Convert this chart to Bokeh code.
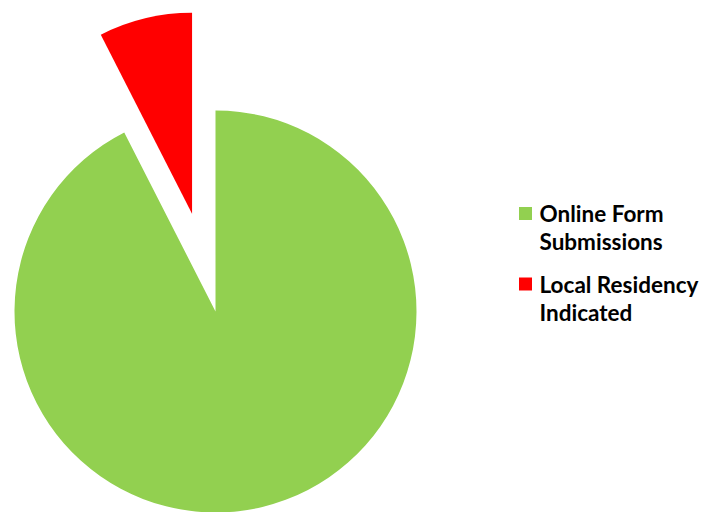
import numpy as np
from bokeh.plotting import figure
from bokeh.models import ColumnDataSource, Range1d
from bokeh.core.properties import value
from bokeh.embed import file_html
from bokeh.resources import INLINE

# ---- data ----
categories = ["Online Form\nSubmissions", "Local Residency\nIndicated"]
values = [92.5, 7.5]
colors = ["#92D050", "#FF0000"]
explode = [0.0, 0.5]

# ---- layout (pixels) ----
W, H = 701, 512
cx, cy, R = 215, 201, 201

p = figure(width=W, height=H, output_backend="svg", toolbar_location=None,
           x_range=Range1d(0, W), y_range=Range1d(0, H),
           min_border=0, outline_line_color=None, background_fill_color="white")
p.axis.visible = False
p.grid.visible = False

vals = np.array(values, dtype=float)
frac = vals / vals.sum()
cum = np.concatenate([[0], np.cumsum(frac)])
start = np.pi / 2 - 2 * np.pi * cum[:-1]
end = np.pi / 2 - 2 * np.pi * cum[1:]
mid = (start + end) / 2
xs = cx + np.array(explode) * R * np.cos(mid)
ys = cy + np.array(explode) * R * np.sin(mid)

src = ColumnDataSource(dict(x=xs, y=ys, start=start, end=end, color=colors))
p.wedge(x="x", y="y", radius=R, radius_units="data", start_angle="start", end_angle="end",
        direction="clock", fill_color="color", line_color=None, source=src)

# ---- legend ----
lx, sq = 525, 13
leg_y = [299, 228.5]
p.rect(x=[lx] * len(categories), y=leg_y, width=sq, height=sq, fill_color=colors, line_color=None)
text_x, text_y, text_s = [], [], []
for i, lab in enumerate(categories):
    for j, line in enumerate(lab.split("\n")):
        text_x.append(539)
        text_y.append(leg_y[i] - 28 * j)
        text_s.append(line)
p.text(x=text_x, y=text_y, text=text_s, text_font=value("Lato"), text_font_style="bold",
       text_font_size="22.5px", text_color="#000000", text_baseline="middle", text_align="left")

open("out.html", "w").write(file_html(p, INLINE))
